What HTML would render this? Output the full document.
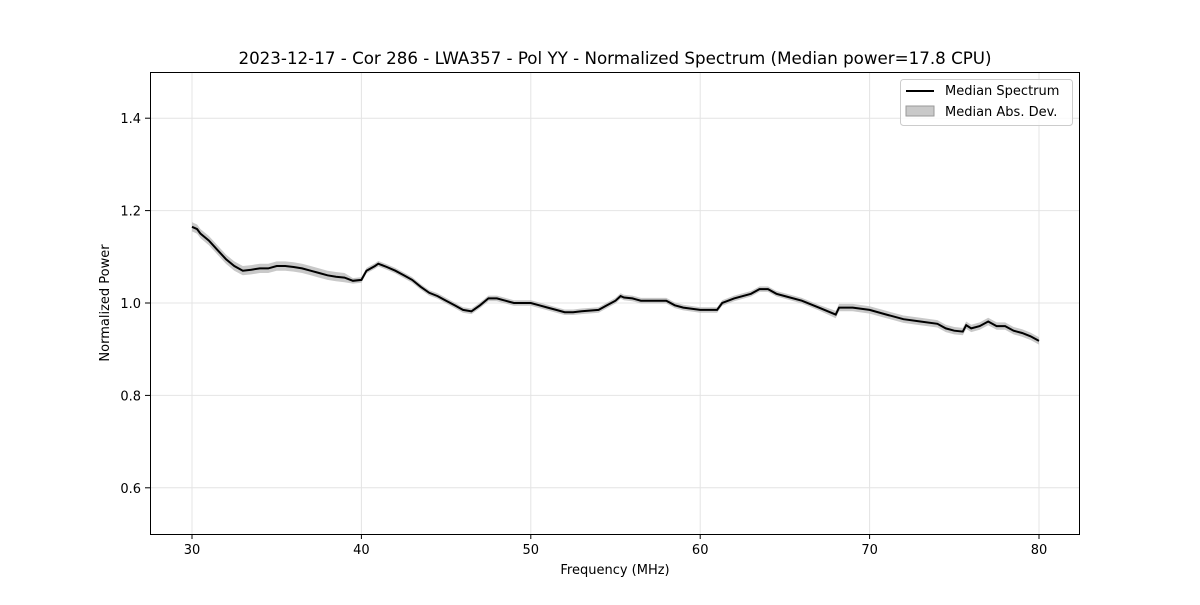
<!DOCTYPE html>
<html><head><meta charset="utf-8"><style>
body{margin:0;background:#fff}
svg text{font-family:"DejaVu Sans","Liberation Sans",sans-serif;fill:#000}
</style></head><body>
<svg id="chart" width="1200" height="600" xmlns="http://www.w3.org/2000/svg">
<rect width="1200" height="600" fill="#fff"/>
<text x="615" y="64" text-anchor="middle" font-size="16.7">2023-12-17 - Cor 286 - LWA357 - Pol YY - Normalized Spectrum (Median power=17.8 CPU)</text>
<g id="grid"></g>
<g id="ticks"></g>
<path id="band" fill="#bbbbbb" fill-opacity="0.8" stroke="none"/>
<path id="line" fill="none" stroke="#000" stroke-width="2"/>
<rect x="150.5" y="72.5" width="929" height="462" fill="none" stroke="#000" stroke-width="1"/>
<text x="615" y="574" text-anchor="middle" font-size="13">Frequency (MHz)</text>
<text transform="translate(109,303) rotate(-90)" text-anchor="middle" font-size="13">Normalized Power</text>
<g>
<rect x="900.5" y="79.5" width="172" height="46" rx="3" fill="#fff" fill-opacity="0.8" stroke="#ccc"/>
<line x1="906" y1="91" x2="934" y2="91" stroke="#000" stroke-width="2"/>
<text x="945" y="95" font-size="13">Median Spectrum</text>
<rect x="906" y="106" width="28" height="10" fill="#bbb" fill-opacity="0.8" stroke="#999"/>
<text x="945" y="116" font-size="13">Median Abs. Dev.</text>
</g>
</svg>
<script>
const freqs=[30,30.3,30.5,31,31.5,32,32.5,33,33.5,34,34.5,35,35.5,36,36.5,37,37.5,38,38.5,39,39.5,40,40.3,40.8,41,41.5,42,42.5,43,43.5,44,44.5,45,45.5,46,46.5,47,47.5,48,48.5,49,50,50.5,51,51.5,52,52.5,53,54,54.5,55,55.3,55.5,56,56.5,57,58,58.5,59,60,61,61.3,62,63,63.5,64,64.5,65,66,67,68,68.2,69,70,71,72,73,74,74.5,75,75.5,75.7,76,76.5,77,77.5,78,78.5,79,79.5,80];
const medians=[1.165,1.16,1.15,1.135,1.115,1.095,1.08,1.07,1.072,1.075,1.075,1.08,1.08,1.078,1.075,1.07,1.065,1.06,1.057,1.055,1.048,1.05,1.07,1.08,1.085,1.078,1.07,1.06,1.05,1.035,1.022,1.015,1.005,0.995,0.985,0.982,0.995,1.01,1.01,1.005,1.0,1.0,0.995,0.99,0.985,0.98,0.98,0.982,0.985,0.995,1.005,1.015,1.012,1.01,1.005,1.005,1.005,0.995,0.99,0.985,0.985,1.0,1.01,1.02,1.03,1.03,1.02,1.015,1.005,0.99,0.975,0.99,0.99,0.985,0.975,0.965,0.96,0.955,0.945,0.94,0.938,0.952,0.945,0.95,0.96,0.95,0.95,0.94,0.935,0.928,0.918];
const madWidth=[0.006,0.008,0.01];
const xTicks=[30,40,50,60,70,80];
const yTicks=[0.6,0.8,1.0,1.2,1.4];
const X=f=>192+(f-30)*(1039-192)/50;
const Y=v=>534-(v-0.5)*462;
const grid=document.getElementById('grid'),ticks=document.getElementById('ticks');
const NS='http://www.w3.org/2000/svg';
function mk(t,a,p){const e=document.createElementNS(NS,t);for(const k in a)e.setAttribute(k,a[k]);p.appendChild(e);return e;}
xTicks.forEach(t=>{const x=X(t);
const g=mk('line',{x1:x,x2:x,y1:72,y2:534,stroke:'#e4e4e4'},grid);


mk('line',{x1:x,x2:x,y1:534,y2:539,stroke:'#000'},ticks);
const tx=mk('text',{x:x,y:554,'text-anchor':'middle','font-size':13},ticks);tx.textContent=t;

});
yTicks.forEach(t=>{const y=Y(t);
const g=mk('line',{x1:150,x2:1080,y1:y,y2:y,stroke:'#e4e4e4'},grid);


mk('line',{x1:145,x2:150,y1:y,y2:y,stroke:'#000'},ticks);
const tx=mk('text',{x:141,y:y+5,'text-anchor':'end','font-size':13},ticks);tx.textContent=t.toFixed(1);

});
const w=i=>madWidth[i<20?2:(i<70?0:1)];
let d='M'+freqs.map((f,i)=>X(f).toFixed(1)+','+Y(medians[i]).toFixed(1)).join('L');
document.getElementById('line').setAttribute('d',d);
let up=freqs.map((f,i)=>X(f).toFixed(1)+','+Y(medians[i]+w(i)).toFixed(1));
let dn=freqs.map((f,i)=>X(f).toFixed(1)+','+Y(medians[i]-w(i)).toFixed(1)).reverse();
document.getElementById('band').setAttribute('d','M'+up.join('L')+'L'+dn.join('L')+'Z');
</script>
</body></html>
